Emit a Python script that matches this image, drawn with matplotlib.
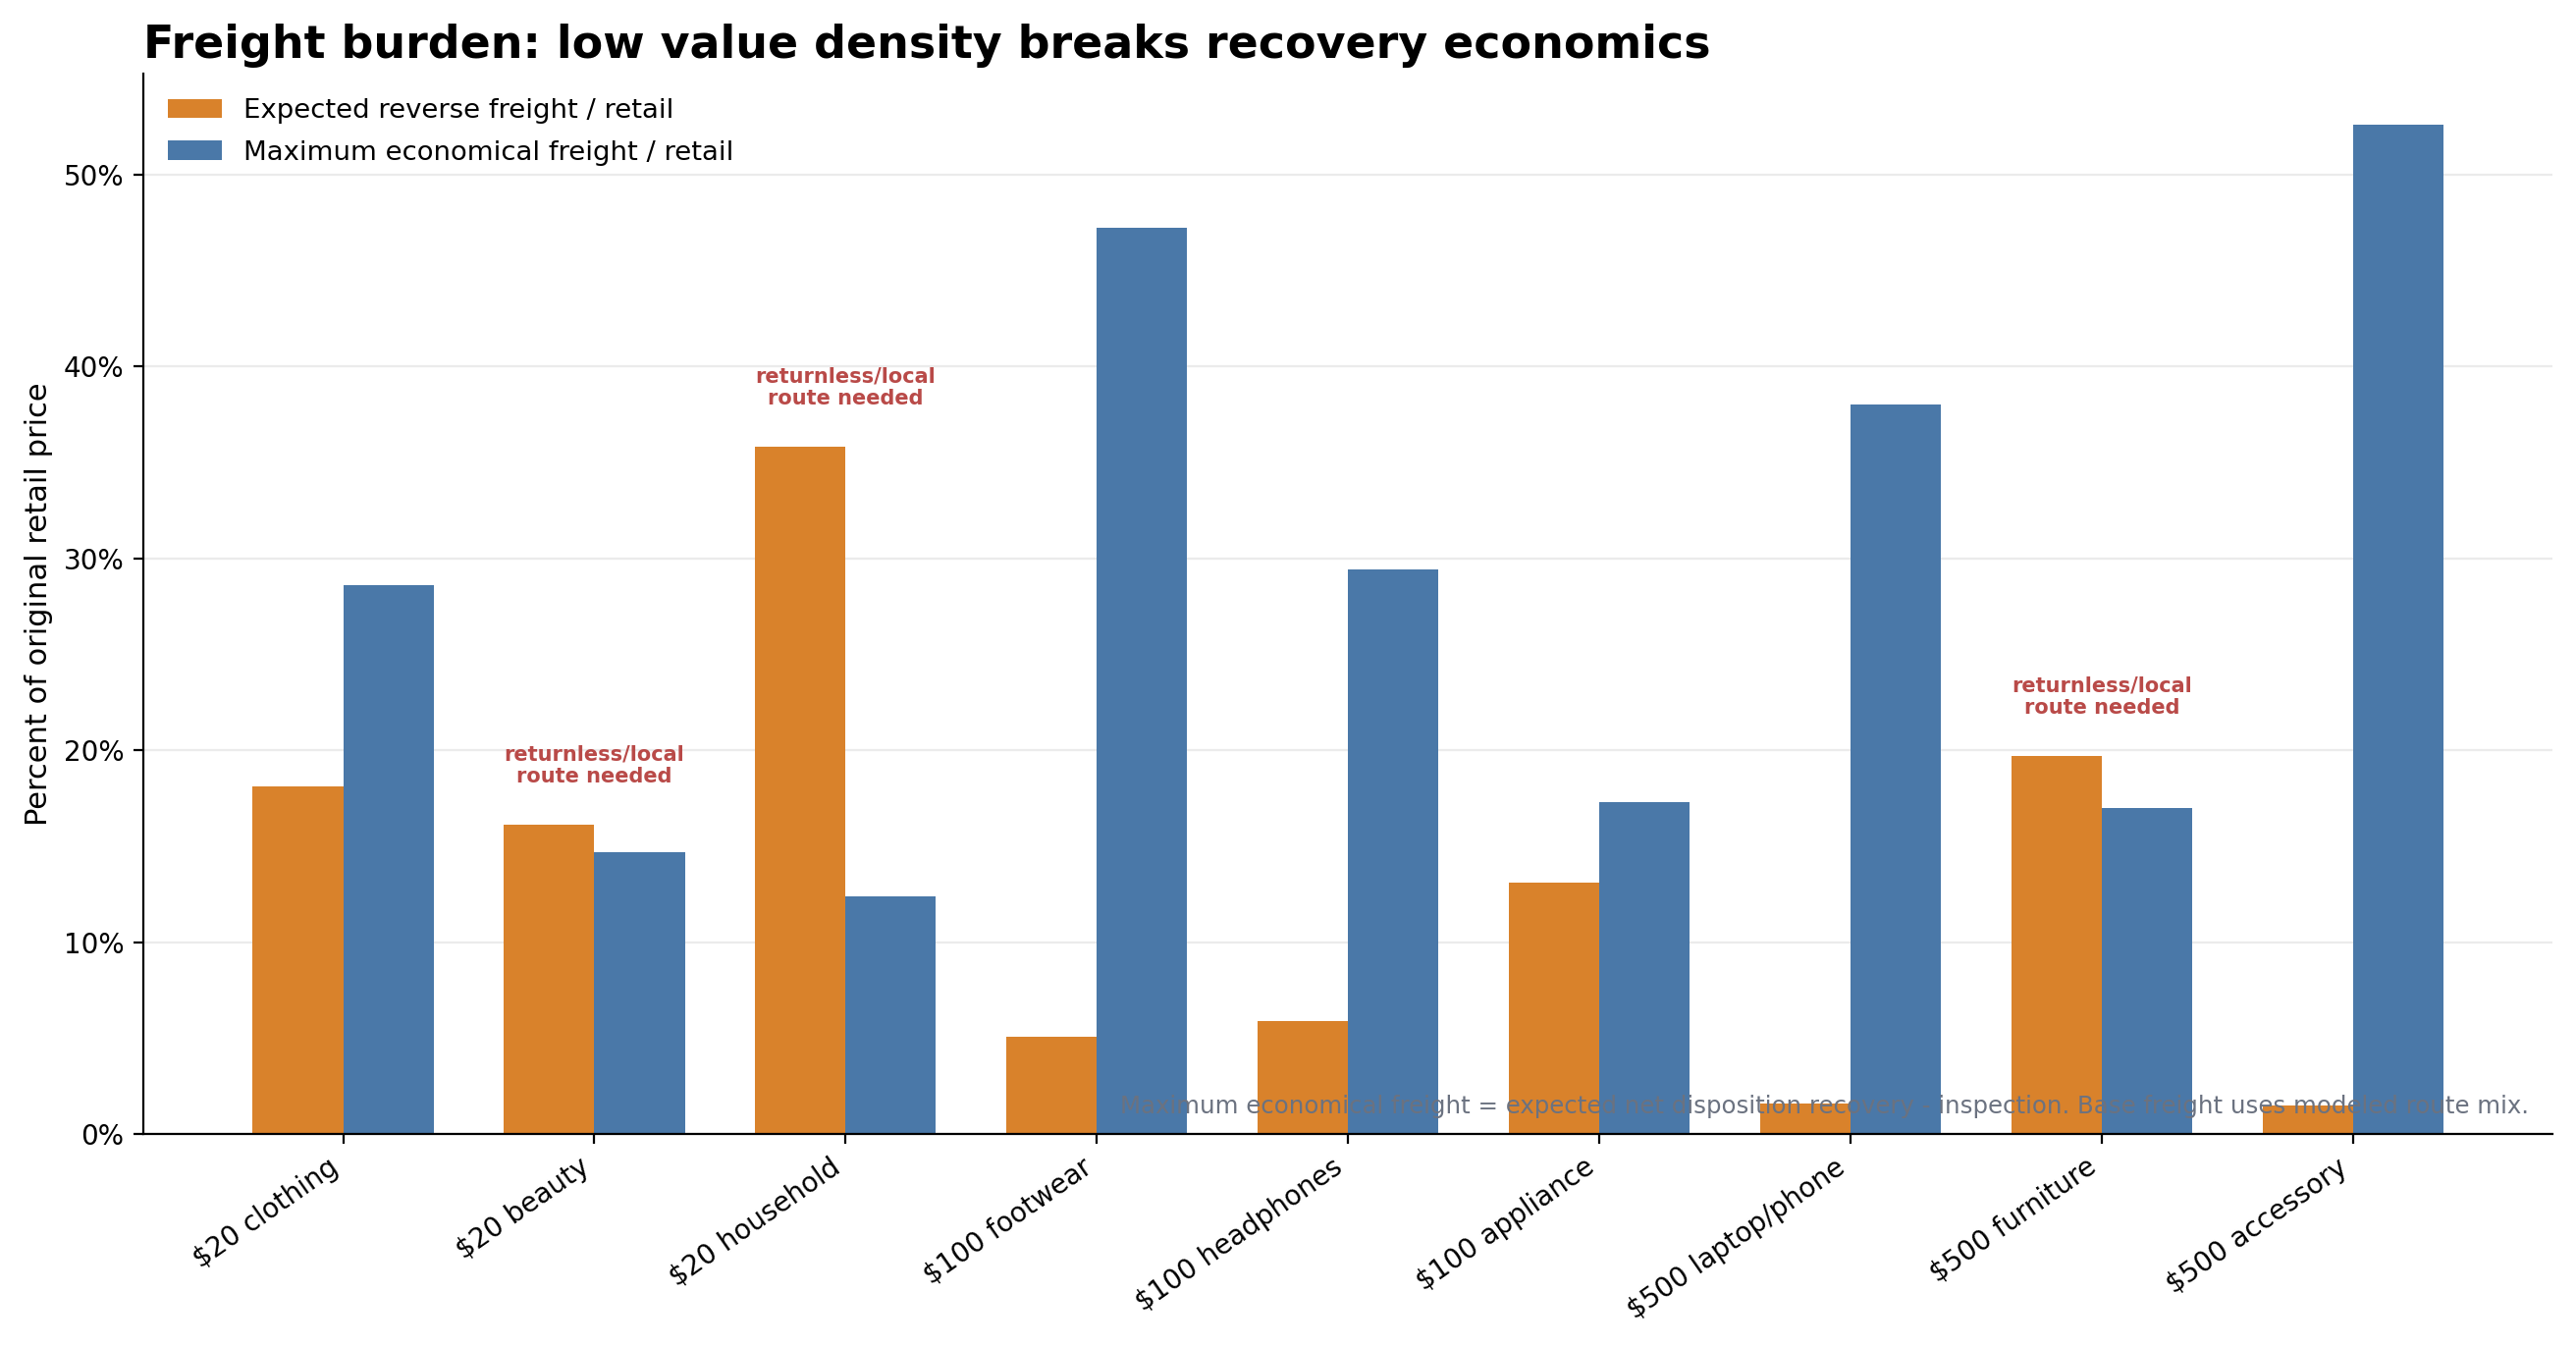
import matplotlib
matplotlib.use("Agg")
import matplotlib.pyplot as plt
import numpy as np
from matplotlib.ticker import FuncFormatter

categories = ["$20 clothing", "$20 beauty", "$20 household", "$100 footwear",
              "$100 headphones", "$100 appliance", "$500 laptop/phone",
              "$500 furniture", "$500 accessory"]
expected_freight = [18.1, 16.1, 35.8, 5.1, 5.9, 13.1, 1.6, 19.7, 1.5]
max_economical = [28.6, 14.7, 12.4, 47.2, 29.4, 17.3, 38.0, 17.0, 52.6]

title = "Freight burden: low value density breaks recovery economics"
ylabel = "Percent of original retail price"
label_expected = "Expected reverse freight / retail"
label_max = "Maximum economical freight / retail"
flag_text = "returnless/local\nroute needed"
footnote = ("Maximum economical freight = expected net disposition recovery - inspection. "
            "Base freight uses modeled route mix.")

c_orange = "#D9822B"
c_blue = "#4A78A8"
c_flag = "#B94A48"

fig, ax = plt.subplots(figsize=(13.12, 6.86), dpi=200)
fig.subplots_adjust(left=0.0556, right=0.991, top=0.945, bottom=0.158)

x = np.arange(len(categories))
w = 0.36
ax.bar(x - w / 2, expected_freight, width=w, color=c_orange, label=label_expected)
ax.bar(x + w / 2, max_economical, width=w, color=c_blue, label=label_max)

for xi, e, m in zip(x, expected_freight, max_economical):
    if e > m:
        ax.text(xi, max(e, m) + 2.0, flag_text, ha="center", va="bottom",
                fontsize=7.5, fontweight="bold", color=c_flag, linespacing=1.15)

ax.set_ylim(0, max(max_economical) * 1.05)
ax.yaxis.set_major_formatter(FuncFormatter(lambda v, p: f"{v:.0f}%"))
ax.set_xticks(x)
ax.set_xticklabels(categories, rotation=35, ha="right", fontsize=10)
ax.tick_params(axis="y", labelsize=10)
ax.set_ylabel(ylabel, fontsize=11)
ax.set_title(title, loc="left", fontsize=16.5, fontweight="bold")

ax.grid(axis="y", color="#ebebeb", linewidth=0.8)
ax.set_axisbelow(True)
ax.spines["top"].set_visible(False)
ax.spines["right"].set_visible(False)

ax.legend(loc="upper left", frameon=False, fontsize=9.9, labelspacing=0.6)

ax.text(0.99, 0.015, footnote, transform=ax.transAxes, ha="right", va="bottom",
        fontsize=8.8, color="#6B7280")

fig.savefig("out.png", dpi=200)
